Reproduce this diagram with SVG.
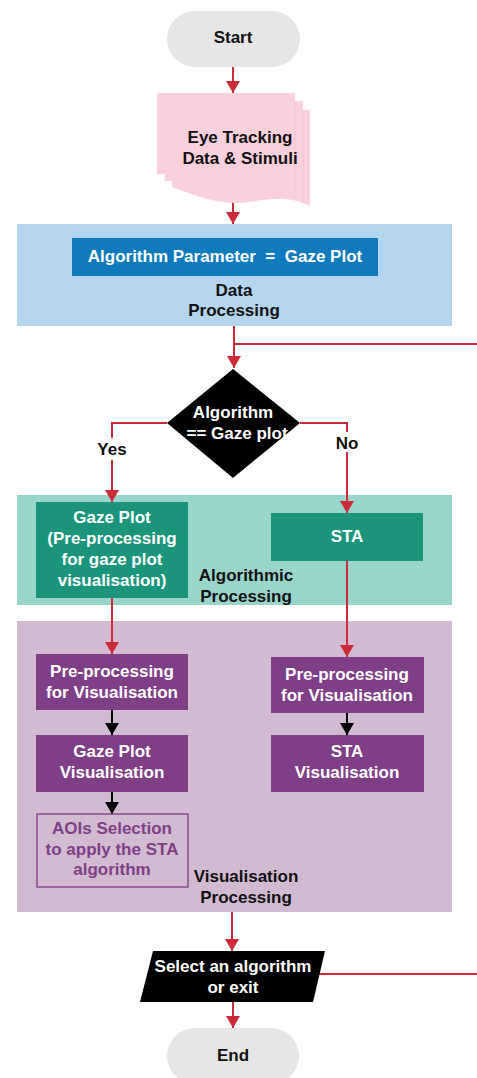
<svg xmlns="http://www.w3.org/2000/svg" width="477" height="1078" viewBox="0 0 477 1078">
  <defs>
    <style>
      text { font-family: "Liberation Sans", Arial, sans-serif; font-weight: bold; font-size: 17px; text-anchor: middle; white-space: pre; }
      .dark { fill: #111111; }
      .light { fill: #ffffff; }
      .purpletxt { fill: #7f3f87; }
      .red { stroke: #cc2a38; stroke-width: 2; fill: none; }
      .blk { stroke: #000000; stroke-width: 2; fill: none; }
      .vis { fill: #7f3f87; }
      .alg { fill: #1a957b; }
    </style>
    <marker id="arrRed" viewBox="0 0 12 14" refX="12" refY="7" markerWidth="12" markerHeight="14" markerUnits="userSpaceOnUse" orient="auto">
      <path d="M0,0 L12,7 L0,14 Z" fill="#cc2a38"/>
    </marker>
    <marker id="arrBlk" viewBox="0 0 12 14" refX="12" refY="7" markerWidth="12" markerHeight="14" markerUnits="userSpaceOnUse" orient="auto">
      <path d="M0,0 L12,7 L0,14 Z" fill="#000000"/>
    </marker>
  </defs>

  <rect width="477" height="1078" fill="#ffffff"/>

  <!-- Swimlane containers -->
  <g id="data-processing">
    <rect x="17" y="224" width="435" height="102" fill="#b3d5ee"/>
    <text class="dark" x="234" y="296">Data</text>
    <text class="dark" x="234" y="316">Processing</text>
  </g>
  <g id="algorithmic-processing">
    <rect x="17" y="495" width="435" height="110" fill="#9ad5cb"/>
    <text class="dark" x="246" y="581">Algorithmic</text>
    <text class="dark" x="246" y="602">Processing</text>
  </g>
  <g id="visualisation-processing">
    <rect x="17" y="621" width="435" height="291" fill="#d2bad2"/>
    <text class="dark" x="246" y="882">Visualisation</text>
    <text class="dark" x="246" y="903">Processing</text>
  </g>

  <!-- Connectors -->
  <g id="connectors">
    <path class="red" d="M233,67 V93" marker-end="url(#arrRed)"/>
    <path class="red" d="M233,198 V224" marker-end="url(#arrRed)"/>
    <path class="red" d="M234,326 V368" marker-end="url(#arrRed)"/>
    <path class="red" d="M234,344 H477"/>
    <path class="red" d="M167,423 H112 V502" marker-end="url(#arrRed)"/>
    <path class="red" d="M300,423 H347 V513" marker-end="url(#arrRed)"/>
    <path class="red" d="M112,598 V654" marker-end="url(#arrRed)"/>
    <path class="red" d="M347,561 V657" marker-end="url(#arrRed)"/>
    <path class="blk" d="M112,710 V735" marker-end="url(#arrBlk)"/>
    <path class="blk" d="M112,792 V814" marker-end="url(#arrBlk)"/>
    <path class="blk" d="M347,713 V735" marker-end="url(#arrBlk)"/>
    <path class="red" d="M232,912 V951" marker-end="url(#arrRed)"/>
    <path class="red" d="M313,974 H477"/>
    <path class="red" d="M233,1002 V1028" marker-end="url(#arrRed)"/>
    <rect x="94" y="438" width="36" height="22" fill="#ffffff"/>
    <text class="dark" x="112" y="455">Yes</text>
    <rect x="332" y="432" width="30" height="20" fill="#ffffff"/>
    <text class="dark" x="347" y="449">No</text>
  </g>

  <!-- Nodes -->
  <g id="start">
    <rect x="167" y="11" width="133" height="56" rx="28" fill="#e6e6e6"/>
    <text class="dark" x="233" y="43">Start</text>
  </g>

  <g id="eye-tracking-data">
    <!-- stacked pages with a wavy bottom edge -->
    <path d="M157,93 H295 V101 H303 V110 H310 V206 C290,196 275,198 250,202 C225,206 200,198 172,187 V181 H165 V174 H157 Z" fill="#f9d0dc"/>
    <path d="M295,101 V199 M303,110 V203" stroke="#f2c2cf" stroke-width="0.8" fill="none"/>
    <text class="dark" x="240" y="143">Eye Tracking</text>
    <text class="dark" x="240" y="164">Data &amp; Stimuli</text>
  </g>

  <g id="algorithm-parameter">
    <rect x="72" y="238" width="306" height="38" fill="#0f7bbd"/>
    <text class="light" x="225" y="262">Algorithm Parameter  =  Gaze Plot</text>
  </g>

  <g id="decision">
    <path d="M233,369 L300,423 L233,478 L167,423 Z" fill="#000000"/>
    <text class="light" x="233" y="418">Algorithm</text>
    <text class="light" x="237" y="439">== Gaze plot</text>
  </g>

  <g id="gaze-plot-algorithm">
    <rect class="alg" x="36" y="502" width="152" height="96"/>
    <text class="light" x="112" y="523">Gaze Plot</text>
    <text class="light" x="112" y="544">(Pre-processing</text>
    <text class="light" x="112" y="565">for gaze plot</text>
    <text class="light" x="112" y="586">visualisation)</text>
  </g>

  <g id="sta-algorithm">
    <rect class="alg" x="271" y="513" width="152" height="48"/>
    <text class="light" x="347" y="542">STA</text>
  </g>

  <g id="gaze-preprocessing">
    <rect class="vis" x="36" y="654" width="152" height="56"/>
    <text class="light" x="112" y="677">Pre-processing</text>
    <text class="light" x="112" y="698">for Visualisation</text>
  </g>

  <g id="gaze-plot-visualisation">
    <rect class="vis" x="36" y="735" width="152" height="57"/>
    <text class="light" x="112" y="757">Gaze Plot</text>
    <text class="light" x="112" y="778">Visualisation</text>
  </g>

  <g id="aoi-selection">
    <rect x="37" y="814" width="151" height="73" fill="none" stroke="#8a4a90" stroke-width="1.5"/>
    <text class="purpletxt" x="112" y="834">AOIs Selection</text>
    <text class="purpletxt" x="112" y="855">to apply the STA</text>
    <text class="purpletxt" x="112" y="875">algorithm</text>
  </g>

  <g id="sta-preprocessing">
    <rect class="vis" x="271" y="657" width="153" height="56"/>
    <text class="light" x="347" y="680">Pre-processing</text>
    <text class="light" x="347" y="701">for Visualisation</text>
  </g>

  <g id="sta-visualisation">
    <rect class="vis" x="271" y="735" width="153" height="57"/>
    <text class="light" x="347" y="757">STA</text>
    <text class="light" x="347" y="778">Visualisation</text>
  </g>

  <g id="select-input">
    <path d="M153,951 H325 L313,1002 H140 Z" fill="#000000"/>
    <text class="light" x="233" y="972">Select an algorithm</text>
    <text class="light" x="233" y="993">or exit</text>
  </g>

  <g id="end">
    <rect x="167" y="1028" width="132" height="56" rx="28" fill="#e6e6e6"/>
    <text class="dark" x="233" y="1061">End</text>
  </g>
</svg>
